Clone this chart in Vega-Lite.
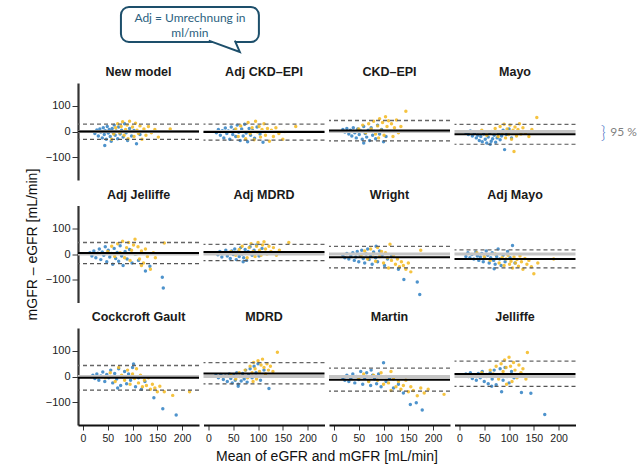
{
"$schema": "https://vega.github.io/schema/vega-lite/v6.json",
"padding": {"left": 25, "top": 6, "right": 1, "bottom": 2},
"bounds": "flush",
"data": {"values": [
{"p":"A","n":"New model","m":0,"lo":-31,"hi":29},{"p":"B","n":"Adj CKD–EPI","m":-2,"lo":-34,"hi":29},{"p":"C","n":"CKD–EPI","m":4,"lo":-37,"hi":43},{"p":"D","n":"Mayo","m":-11,"lo":-50,"hi":28},
{"p":"E","n":"Adj Jelliffe","m":4,"lo":-38,"hi":45},{"p":"F","n":"Adj MDRD","m":8,"lo":-26,"hi":38},{"p":"G","n":"Wright","m":-13,"lo":-54,"hi":30},{"p":"H","n":"Adj Mayo","m":-20,"lo":-54,"hi":16},
{"p":"I","n":"Cockcroft Gault","m":-5,"lo":-53,"hi":43},{"p":"J","n":"MDRD","m":12,"lo":-29,"hi":54},{"p":"K","n":"Martin","m":-13,"lo":-57,"hi":33},{"p":"L","n":"Jelliffe","m":10,"lo":-39,"hi":60},
{"p":"A","x":24,"y":-8,"c":"b"},{"p":"A","x":28,"y":6,"c":"b"},{"p":"A","x":31,"y":-18,"c":"b"},{"p":"A","x":34,"y":10,"c":"b"},{"p":"A","x":36,"y":-2,"c":"b"},{"p":"A","x":39,"y":-25,"c":"b"},{"p":"A","x":41,"y":15,"c":"b"},{"p":"A","x":43,"y":-12,"c":"b"},{"p":"A","x":45,"y":3,"c":"b"},{"p":"A","x":47,"y":-30,"c":"b"},{"p":"A","x":49,"y":20,"c":"b"},{"p":"A","x":51,"y":-6,"c":"b"},{"p":"A","x":53,"y":8,"c":"b"},{"p":"A","x":55,"y":-20,"c":"b"},{"p":"A","x":57,"y":-38,"c":"b"},{"p":"A","x":59,"y":12,"c":"b"},{"p":"A","x":61,"y":-4,"c":"b"},{"p":"A","x":63,"y":25,"c":"b"},{"p":"A","x":65,"y":-15,"c":"b"},{"p":"A","x":67,"y":2,"c":"b"},{"p":"A","x":70,"y":-28,"c":"b"},{"p":"A","x":72,"y":18,"c":"b"},{"p":"A","x":75,"y":-10,"c":"b"},{"p":"A","x":78,"y":5,"c":"b"},{"p":"A","x":81,"y":-22,"c":"b"},{"p":"A","x":84,"y":30,"c":"b"},{"p":"A","x":87,"y":-5,"c":"b"},{"p":"A","x":90,"y":-35,"c":"b"},{"p":"A","x":94,"y":12,"c":"b"},{"p":"A","x":98,"y":-18,"c":"b"},{"p":"A","x":103,"y":4,"c":"b"},{"p":"A","x":108,"y":-48,"c":"b"},{"p":"A","x":44,"y":-55,"c":"b"},{"p":"A","x":115,"y":-12,"c":"b"},
{"p":"A","x":62,"y":-10,"c":"y"},{"p":"A","x":66,"y":15,"c":"y"},{"p":"A","x":70,"y":30,"c":"y"},{"p":"A","x":74,"y":-5,"c":"y"},{"p":"A","x":77,"y":20,"c":"y"},{"p":"A","x":80,"y":38,"c":"y"},{"p":"A","x":83,"y":-15,"c":"y"},{"p":"A","x":86,"y":8,"c":"y"},{"p":"A","x":89,"y":25,"c":"y"},{"p":"A","x":91,"y":-28,"c":"y"},{"p":"A","x":94,"y":40,"c":"y"},{"p":"A","x":97,"y":0,"c":"y"},{"p":"A","x":100,"y":18,"c":"y"},{"p":"A","x":103,"y":-20,"c":"y"},{"p":"A","x":106,"y":32,"c":"y"},{"p":"A","x":109,"y":5,"c":"y"},{"p":"A","x":112,"y":-8,"c":"y"},{"p":"A","x":115,"y":22,"c":"y"},{"p":"A","x":119,"y":-30,"c":"y"},{"p":"A","x":123,"y":10,"c":"y"},{"p":"A","x":127,"y":-15,"c":"y"},{"p":"A","x":132,"y":20,"c":"y"},{"p":"A","x":138,"y":-5,"c":"y"},{"p":"A","x":145,"y":8,"c":"y"},{"p":"A","x":152,"y":-22,"c":"y"},{"p":"A","x":176,"y":10,"c":"y"},{"p":"A","x":58,"y":-30,"c":"y"},
{"p":"B","x":16,"y":-5,"c":"b"},{"p":"B","x":20,"y":8,"c":"b"},{"p":"B","x":24,"y":-15,"c":"b"},{"p":"B","x":28,"y":3,"c":"b"},{"p":"B","x":31,"y":-25,"c":"b"},{"p":"B","x":34,"y":14,"c":"b"},{"p":"B","x":37,"y":-8,"c":"b"},{"p":"B","x":40,"y":2,"c":"b"},{"p":"B","x":43,"y":-30,"c":"b"},{"p":"B","x":46,"y":18,"c":"b"},{"p":"B","x":49,"y":-12,"c":"b"},{"p":"B","x":52,"y":6,"c":"b"},{"p":"B","x":55,"y":-20,"c":"b"},{"p":"B","x":58,"y":25,"c":"b"},{"p":"B","x":61,"y":-3,"c":"b"},{"p":"B","x":64,"y":-35,"c":"b"},{"p":"B","x":67,"y":10,"c":"b"},{"p":"B","x":70,"y":-18,"c":"b"},{"p":"B","x":73,"y":28,"c":"b"},{"p":"B","x":76,"y":-6,"c":"b"},{"p":"B","x":79,"y":-40,"c":"b"},{"p":"B","x":82,"y":12,"c":"b"},{"p":"B","x":85,"y":-15,"c":"b"},{"p":"B","x":89,"y":4,"c":"b"},{"p":"B","x":93,"y":-26,"c":"b"},{"p":"B","x":98,"y":18,"c":"b"},{"p":"B","x":104,"y":-10,"c":"b"},{"p":"B","x":110,"y":-42,"c":"b"},
{"p":"B","x":55,"y":10,"c":"y"},{"p":"B","x":60,"y":-20,"c":"y"},{"p":"B","x":65,"y":22,"c":"y"},{"p":"B","x":70,"y":0,"c":"y"},{"p":"B","x":75,"y":-28,"c":"y"},{"p":"B","x":80,"y":35,"c":"y"},{"p":"B","x":84,"y":-8,"c":"y"},{"p":"B","x":88,"y":15,"c":"y"},{"p":"B","x":92,"y":-32,"c":"y"},{"p":"B","x":95,"y":40,"c":"y"},{"p":"B","x":99,"y":-2,"c":"y"},{"p":"B","x":102,"y":20,"c":"y"},{"p":"B","x":105,"y":-22,"c":"y"},{"p":"B","x":108,"y":8,"c":"y"},{"p":"B","x":112,"y":30,"c":"y"},{"p":"B","x":115,"y":-15,"c":"y"},{"p":"B","x":119,"y":12,"c":"y"},{"p":"B","x":123,"y":-38,"c":"y"},{"p":"B","x":127,"y":5,"c":"y"},{"p":"B","x":131,"y":-20,"c":"y"},{"p":"B","x":136,"y":15,"c":"y"},{"p":"B","x":142,"y":-8,"c":"y"},{"p":"B","x":150,"y":-30,"c":"y"},{"p":"B","x":154,"y":0,"c":"y"},{"p":"B","x":176,"y":20,"c":"y"},
{"p":"C","x":18,"y":8,"c":"b"},{"p":"C","x":22,"y":-2,"c":"b"},{"p":"C","x":26,"y":12,"c":"b"},{"p":"C","x":30,"y":-10,"c":"b"},{"p":"C","x":33,"y":5,"c":"b"},{"p":"C","x":36,"y":-18,"c":"b"},{"p":"C","x":39,"y":15,"c":"b"},{"p":"C","x":42,"y":-5,"c":"b"},{"p":"C","x":45,"y":-25,"c":"b"},{"p":"C","x":48,"y":10,"c":"b"},{"p":"C","x":51,"y":-12,"c":"b"},{"p":"C","x":54,"y":2,"c":"b"},{"p":"C","x":57,"y":-30,"c":"b"},{"p":"C","x":60,"y":20,"c":"b"},{"p":"C","x":63,"y":-8,"c":"b"},{"p":"C","x":66,"y":-22,"c":"b"},{"p":"C","x":69,"y":5,"c":"b"},{"p":"C","x":72,"y":-35,"c":"b"},{"p":"C","x":75,"y":15,"c":"b"},{"p":"C","x":78,"y":-15,"c":"b"},{"p":"C","x":81,"y":0,"c":"b"},{"p":"C","x":84,"y":-28,"c":"b"},{"p":"C","x":88,"y":25,"c":"b"},{"p":"C","x":92,"y":-10,"c":"b"},{"p":"C","x":96,"y":8,"c":"b"},{"p":"C","x":100,"y":-40,"c":"b"},{"p":"C","x":105,"y":-20,"c":"b"},{"p":"C","x":60,"y":-45,"c":"b"},
{"p":"C","x":50,"y":10,"c":"y"},{"p":"C","x":58,"y":25,"c":"y"},{"p":"C","x":64,"y":-5,"c":"y"},{"p":"C","x":70,"y":30,"c":"y"},{"p":"C","x":75,"y":10,"c":"y"},{"p":"C","x":80,"y":40,"c":"y"},{"p":"C","x":84,"y":-10,"c":"y"},{"p":"C","x":88,"y":22,"c":"y"},{"p":"C","x":92,"y":50,"c":"y"},{"p":"C","x":95,"y":5,"c":"y"},{"p":"C","x":98,"y":35,"c":"y"},{"p":"C","x":101,"y":-15,"c":"y"},{"p":"C","x":104,"y":58,"c":"y"},{"p":"C","x":107,"y":20,"c":"y"},{"p":"C","x":110,"y":42,"c":"y"},{"p":"C","x":113,"y":0,"c":"y"},{"p":"C","x":116,"y":30,"c":"y"},{"p":"C","x":119,"y":-20,"c":"y"},{"p":"C","x":122,"y":15,"c":"y"},{"p":"C","x":126,"y":45,"c":"y"},{"p":"C","x":130,"y":-5,"c":"y"},{"p":"C","x":135,"y":20,"c":"y"},{"p":"C","x":145,"y":79,"c":"y"},{"p":"C","x":90,"y":-25,"c":"y"},
{"p":"D","x":13,"y":-5,"c":"b"},{"p":"D","x":18,"y":-12,"c":"b"},{"p":"D","x":22,"y":2,"c":"b"},{"p":"D","x":26,"y":-18,"c":"b"},{"p":"D","x":30,"y":-8,"c":"b"},{"p":"D","x":34,"y":-25,"c":"b"},{"p":"D","x":37,"y":-15,"c":"b"},{"p":"D","x":40,"y":-35,"c":"b"},{"p":"D","x":43,"y":-20,"c":"b"},{"p":"D","x":46,"y":-40,"c":"b"},{"p":"D","x":49,"y":-10,"c":"b"},{"p":"D","x":52,"y":-30,"c":"b"},{"p":"D","x":55,"y":-45,"c":"b"},{"p":"D","x":58,"y":-22,"c":"b"},{"p":"D","x":61,"y":-5,"c":"b"},{"p":"D","x":64,"y":-38,"c":"b"},{"p":"D","x":67,"y":-28,"c":"b"},{"p":"D","x":70,"y":-15,"c":"b"},{"p":"D","x":73,"y":-42,"c":"b"},{"p":"D","x":76,"y":-25,"c":"b"},{"p":"D","x":79,"y":-8,"c":"b"},{"p":"D","x":82,"y":-32,"c":"b"},{"p":"D","x":85,"y":-18,"c":"b"},{"p":"D","x":88,"y":5,"c":"b"},{"p":"D","x":91,"y":-71,"c":"b"},{"p":"D","x":95,"y":-12,"c":"b"},{"p":"D","x":100,"y":10,"c":"b"},{"p":"D","x":105,"y":-25,"c":"b"},{"p":"D","x":62,"y":-50,"c":"b"},
{"p":"D","x":45,"y":5,"c":"y"},{"p":"D","x":55,"y":-15,"c":"y"},{"p":"D","x":65,"y":0,"c":"y"},{"p":"D","x":72,"y":12,"c":"y"},{"p":"D","x":78,"y":-20,"c":"y"},{"p":"D","x":82,"y":20,"c":"y"},{"p":"D","x":86,"y":-5,"c":"y"},{"p":"D","x":90,"y":28,"c":"y"},{"p":"D","x":93,"y":-25,"c":"y"},{"p":"D","x":96,"y":10,"c":"y"},{"p":"D","x":99,"y":-12,"c":"y"},{"p":"D","x":102,"y":25,"c":"y"},{"p":"D","x":105,"y":-30,"c":"y"},{"p":"D","x":108,"y":5,"c":"y"},{"p":"D","x":110,"y":-78,"c":"y"},{"p":"D","x":112,"y":18,"c":"y"},{"p":"D","x":115,"y":-18,"c":"y"},{"p":"D","x":118,"y":8,"c":"y"},{"p":"D","x":121,"y":30,"c":"y"},{"p":"D","x":124,"y":-10,"c":"y"},{"p":"D","x":128,"y":15,"c":"y"},{"p":"D","x":133,"y":-5,"c":"y"},{"p":"D","x":140,"y":-20,"c":"y"},{"p":"D","x":146,"y":8,"c":"y"},{"p":"D","x":156,"y":55,"c":"y"},
{"p":"E","x":14,"y":5,"c":"b"},{"p":"E","x":18,"y":-8,"c":"b"},{"p":"E","x":22,"y":12,"c":"b"},{"p":"E","x":26,"y":-15,"c":"b"},{"p":"E","x":30,"y":3,"c":"b"},{"p":"E","x":33,"y":20,"c":"b"},{"p":"E","x":36,"y":-22,"c":"b"},{"p":"E","x":39,"y":8,"c":"b"},{"p":"E","x":42,"y":-5,"c":"b"},{"p":"E","x":45,"y":28,"c":"b"},{"p":"E","x":48,"y":-30,"c":"b"},{"p":"E","x":51,"y":15,"c":"b"},{"p":"E","x":54,"y":-12,"c":"b"},{"p":"E","x":57,"y":2,"c":"b"},{"p":"E","x":60,"y":-40,"c":"b"},{"p":"E","x":63,"y":22,"c":"b"},{"p":"E","x":66,"y":-18,"c":"b"},{"p":"E","x":69,"y":6,"c":"b"},{"p":"E","x":72,"y":-28,"c":"b"},{"p":"E","x":75,"y":32,"c":"b"},{"p":"E","x":78,"y":-8,"c":"b"},{"p":"E","x":81,"y":-45,"c":"b"},{"p":"E","x":85,"y":10,"c":"b"},{"p":"E","x":89,"y":-20,"c":"b"},{"p":"E","x":94,"y":18,"c":"b"},{"p":"E","x":99,"y":-35,"c":"b"},{"p":"E","x":105,"y":0,"c":"b"},{"p":"E","x":112,"y":-25,"c":"b"},{"p":"E","x":126,"y":-67,"c":"b"},{"p":"E","x":160,"y":-91,"c":"b"},{"p":"E","x":162,"y":-133,"c":"b"},{"p":"E","x":135,"y":-48,"c":"b"},
{"p":"E","x":50,"y":10,"c":"y"},{"p":"E","x":58,"y":30,"c":"y"},{"p":"E","x":64,"y":-10,"c":"y"},{"p":"E","x":70,"y":40,"c":"y"},{"p":"E","x":75,"y":5,"c":"y"},{"p":"E","x":80,"y":50,"c":"y"},{"p":"E","x":84,"y":-15,"c":"y"},{"p":"E","x":88,"y":25,"c":"y"},{"p":"E","x":92,"y":45,"c":"y"},{"p":"E","x":95,"y":-25,"c":"y"},{"p":"E","x":98,"y":15,"c":"y"},{"p":"E","x":102,"y":35,"c":"y"},{"p":"E","x":105,"y":58,"c":"y"},{"p":"E","x":108,"y":0,"c":"y"},{"p":"E","x":111,"y":28,"c":"y"},{"p":"E","x":114,"y":-20,"c":"y"},{"p":"E","x":118,"y":12,"c":"y"},{"p":"E","x":122,"y":-35,"c":"y"},{"p":"E","x":126,"y":20,"c":"y"},{"p":"E","x":130,"y":-10,"c":"y"},{"p":"E","x":136,"y":-60,"c":"y"},{"p":"E","x":142,"y":5,"c":"y"},{"p":"E","x":146,"y":-15,"c":"y"},{"p":"E","x":164,"y":43,"c":"y"},{"p":"E","x":118,"y":-45,"c":"y"},
{"p":"F","x":15,"y":5,"c":"b"},{"p":"F","x":19,"y":-3,"c":"b"},{"p":"F","x":23,"y":10,"c":"b"},{"p":"F","x":27,"y":-12,"c":"b"},{"p":"F","x":31,"y":2,"c":"b"},{"p":"F","x":35,"y":15,"c":"b"},{"p":"F","x":38,"y":-8,"c":"b"},{"p":"F","x":41,"y":6,"c":"b"},{"p":"F","x":44,"y":-18,"c":"b"},{"p":"F","x":47,"y":12,"c":"b"},{"p":"F","x":50,"y":-2,"c":"b"},{"p":"F","x":53,"y":20,"c":"b"},{"p":"F","x":56,"y":-22,"c":"b"},{"p":"F","x":59,"y":8,"c":"b"},{"p":"F","x":62,"y":-10,"c":"b"},{"p":"F","x":65,"y":25,"c":"b"},{"p":"F","x":68,"y":0,"c":"b"},{"p":"F","x":71,"y":-15,"c":"b"},{"p":"F","x":74,"y":18,"c":"b"},{"p":"F","x":77,"y":-25,"c":"b"},{"p":"F","x":80,"y":10,"c":"b"},{"p":"F","x":84,"y":28,"c":"b"},{"p":"F","x":88,"y":-5,"c":"b"},{"p":"F","x":92,"y":15,"c":"b"},{"p":"F","x":97,"y":35,"c":"b"},{"p":"F","x":102,"y":-8,"c":"b"},{"p":"F","x":108,"y":22,"c":"b"},{"p":"F","x":115,"y":5,"c":"b"},{"p":"F","x":70,"y":-30,"c":"b"},
{"p":"F","x":45,"y":10,"c":"y"},{"p":"F","x":55,"y":-5,"c":"y"},{"p":"F","x":62,"y":18,"c":"y"},{"p":"F","x":68,"y":30,"c":"y"},{"p":"F","x":73,"y":5,"c":"y"},{"p":"F","x":78,"y":-15,"c":"y"},{"p":"F","x":82,"y":25,"c":"y"},{"p":"F","x":86,"y":40,"c":"y"},{"p":"F","x":90,"y":10,"c":"y"},{"p":"F","x":94,"y":-10,"c":"y"},{"p":"F","x":97,"y":30,"c":"y"},{"p":"F","x":100,"y":45,"c":"y"},{"p":"F","x":103,"y":15,"c":"y"},{"p":"F","x":106,"y":-5,"c":"y"},{"p":"F","x":109,"y":35,"c":"y"},{"p":"F","x":112,"y":48,"c":"y"},{"p":"F","x":115,"y":20,"c":"y"},{"p":"F","x":118,"y":0,"c":"y"},{"p":"F","x":122,"y":30,"c":"y"},{"p":"F","x":126,"y":10,"c":"y"},{"p":"F","x":131,"y":25,"c":"y"},{"p":"F","x":137,"y":-5,"c":"y"},{"p":"F","x":143,"y":15,"c":"y"},{"p":"F","x":162,"y":45,"c":"y"},
{"p":"G","x":18,"y":-5,"c":"b"},{"p":"G","x":22,"y":-15,"c":"b"},{"p":"G","x":26,"y":2,"c":"b"},{"p":"G","x":30,"y":-20,"c":"b"},{"p":"G","x":34,"y":-8,"c":"b"},{"p":"G","x":38,"y":5,"c":"b"},{"p":"G","x":41,"y":-25,"c":"b"},{"p":"G","x":44,"y":-12,"c":"b"},{"p":"G","x":47,"y":10,"c":"b"},{"p":"G","x":50,"y":-30,"c":"b"},{"p":"G","x":53,"y":-5,"c":"b"},{"p":"G","x":56,"y":15,"c":"b"},{"p":"G","x":59,"y":-18,"c":"b"},{"p":"G","x":62,"y":-35,"c":"b"},{"p":"G","x":65,"y":0,"c":"b"},{"p":"G","x":68,"y":20,"c":"b"},{"p":"G","x":71,"y":-22,"c":"b"},{"p":"G","x":74,"y":-10,"c":"b"},{"p":"G","x":77,"y":-40,"c":"b"},{"p":"G","x":80,"y":8,"c":"b"},{"p":"G","x":84,"y":-15,"c":"b"},{"p":"G","x":88,"y":-30,"c":"b"},{"p":"G","x":92,"y":12,"c":"b"},{"p":"G","x":97,"y":-5,"c":"b"},{"p":"G","x":102,"y":-45,"c":"b"},{"p":"G","x":108,"y":-20,"c":"b"},{"p":"G","x":116,"y":-10,"c":"b"},{"p":"G","x":130,"y":-60,"c":"b"},{"p":"G","x":141,"y":-100,"c":"b"},{"p":"G","x":168,"y":-110,"c":"b"},{"p":"G","x":173,"y":-159,"c":"b"},{"p":"G","x":85,"y":30,"c":"b"},
{"p":"G","x":55,"y":-5,"c":"y"},{"p":"G","x":62,"y":12,"c":"y"},{"p":"G","x":68,"y":-20,"c":"y"},{"p":"G","x":74,"y":20,"c":"y"},{"p":"G","x":79,"y":0,"c":"y"},{"p":"G","x":84,"y":-28,"c":"y"},{"p":"G","x":88,"y":25,"c":"y"},{"p":"G","x":92,"y":-10,"c":"y"},{"p":"G","x":96,"y":10,"c":"y"},{"p":"G","x":100,"y":-35,"c":"y"},{"p":"G","x":104,"y":5,"c":"y"},{"p":"G","x":108,"y":-15,"c":"y"},{"p":"G","x":113,"y":38,"c":"y"},{"p":"G","x":116,"y":-25,"c":"y"},{"p":"G","x":120,"y":-5,"c":"y"},{"p":"G","x":124,"y":-40,"c":"y"},{"p":"G","x":128,"y":-20,"c":"y"},{"p":"G","x":132,"y":-50,"c":"y"},{"p":"G","x":136,"y":-30,"c":"y"},{"p":"G","x":140,"y":-45,"c":"y"},{"p":"G","x":145,"y":-60,"c":"y"},{"p":"G","x":150,"y":-35,"c":"y"},{"p":"G","x":155,"y":-70,"c":"y"},{"p":"G","x":175,"y":15,"c":"y"},{"p":"G","x":110,"y":-55,"c":"y"},
{"p":"H","x":13,"y":-10,"c":"b"},{"p":"H","x":17,"y":5,"c":"b"},{"p":"H","x":21,"y":-15,"c":"b"},{"p":"H","x":25,"y":-2,"c":"b"},{"p":"H","x":29,"y":-20,"c":"b"},{"p":"H","x":33,"y":8,"c":"b"},{"p":"H","x":36,"y":-8,"c":"b"},{"p":"H","x":39,"y":-25,"c":"b"},{"p":"H","x":42,"y":-12,"c":"b"},{"p":"H","x":45,"y":2,"c":"b"},{"p":"H","x":48,"y":-30,"c":"b"},{"p":"H","x":51,"y":-18,"c":"b"},{"p":"H","x":54,"y":12,"c":"b"},{"p":"H","x":57,"y":-5,"c":"b"},{"p":"H","x":60,"y":-35,"c":"b"},{"p":"H","x":63,"y":-15,"c":"b"},{"p":"H","x":66,"y":5,"c":"b"},{"p":"H","x":69,"y":-25,"c":"b"},{"p":"H","x":72,"y":-40,"c":"b"},{"p":"H","x":75,"y":-10,"c":"b"},{"p":"H","x":78,"y":20,"c":"b"},{"p":"H","x":81,"y":-20,"c":"b"},{"p":"H","x":84,"y":-45,"c":"b"},{"p":"H","x":88,"y":-5,"c":"b"},{"p":"H","x":92,"y":-30,"c":"b"},{"p":"H","x":97,"y":10,"c":"b"},{"p":"H","x":102,"y":-15,"c":"b"},{"p":"H","x":107,"y":33,"c":"b"},{"p":"H","x":112,"y":-35,"c":"b"},{"p":"H","x":70,"y":-58,"c":"b"},
{"p":"H","x":35,"y":5,"c":"y"},{"p":"H","x":50,"y":-10,"c":"y"},{"p":"H","x":62,"y":-25,"c":"y"},{"p":"H","x":72,"y":0,"c":"y"},{"p":"H","x":80,"y":-35,"c":"y"},{"p":"H","x":86,"y":-15,"c":"y"},{"p":"H","x":90,"y":-45,"c":"y"},{"p":"H","x":94,"y":-20,"c":"y"},{"p":"H","x":98,"y":-5,"c":"y"},{"p":"H","x":101,"y":-40,"c":"y"},{"p":"H","x":104,"y":-28,"c":"y"},{"p":"H","x":107,"y":-55,"c":"y"},{"p":"H","x":110,"y":-12,"c":"y"},{"p":"H","x":113,"y":-35,"c":"y"},{"p":"H","x":116,"y":-22,"c":"y"},{"p":"H","x":119,"y":-48,"c":"y"},{"p":"H","x":122,"y":-8,"c":"y"},{"p":"H","x":125,"y":-30,"c":"y"},{"p":"H","x":128,"y":-60,"c":"y"},{"p":"H","x":132,"y":-18,"c":"y"},{"p":"H","x":136,"y":-40,"c":"y"},{"p":"H","x":140,"y":-25,"c":"y"},{"p":"H","x":145,"y":-50,"c":"y"},{"p":"H","x":150,"y":-77,"c":"y"},{"p":"H","x":158,"y":-35,"c":"y"},{"p":"H","x":190,"y":-20,"c":"y"},
{"p":"I","x":20,"y":5,"c":"b"},{"p":"I","x":24,"y":-8,"c":"b"},{"p":"I","x":28,"y":10,"c":"b"},{"p":"I","x":32,"y":-15,"c":"b"},{"p":"I","x":36,"y":2,"c":"b"},{"p":"I","x":40,"y":18,"c":"b"},{"p":"I","x":44,"y":-20,"c":"b"},{"p":"I","x":48,"y":8,"c":"b"},{"p":"I","x":52,"y":-5,"c":"b"},{"p":"I","x":56,"y":25,"c":"b"},{"p":"I","x":60,"y":-25,"c":"b"},{"p":"I","x":64,"y":12,"c":"b"},{"p":"I","x":68,"y":-10,"c":"b"},{"p":"I","x":72,"y":30,"c":"b"},{"p":"I","x":76,"y":-35,"c":"b"},{"p":"I","x":80,"y":0,"c":"b"},{"p":"I","x":84,"y":20,"c":"b"},{"p":"I","x":88,"y":-28,"c":"b"},{"p":"I","x":92,"y":10,"c":"b"},{"p":"I","x":96,"y":-15,"c":"b"},{"p":"I","x":100,"y":35,"c":"b"},{"p":"I","x":102,"y":49,"c":"b"},{"p":"I","x":106,"y":-40,"c":"b"},{"p":"I","x":112,"y":-5,"c":"b"},{"p":"I","x":118,"y":-50,"c":"b"},{"p":"I","x":125,"y":-20,"c":"b"},{"p":"I","x":143,"y":-83,"c":"b"},{"p":"I","x":161,"y":-126,"c":"b"},{"p":"I","x":188,"y":-151,"c":"b"},{"p":"I","x":70,"y":-45,"c":"b"},
{"p":"I","x":45,"y":-5,"c":"y"},{"p":"I","x":55,"y":15,"c":"y"},{"p":"I","x":65,"y":-20,"c":"y"},{"p":"I","x":72,"y":35,"c":"y"},{"p":"I","x":78,"y":5,"c":"y"},{"p":"I","x":84,"y":-15,"c":"y"},{"p":"I","x":90,"y":25,"c":"y"},{"p":"I","x":95,"y":-30,"c":"y"},{"p":"I","x":100,"y":10,"c":"y"},{"p":"I","x":104,"y":-8,"c":"y"},{"p":"I","x":108,"y":30,"c":"y"},{"p":"I","x":112,"y":-25,"c":"y"},{"p":"I","x":116,"y":5,"c":"y"},{"p":"I","x":120,"y":-40,"c":"y"},{"p":"I","x":124,"y":-15,"c":"y"},{"p":"I","x":128,"y":-35,"c":"y"},{"p":"I","x":132,"y":-5,"c":"y"},{"p":"I","x":136,"y":-50,"c":"y"},{"p":"I","x":140,"y":-30,"c":"y"},{"p":"I","x":145,"y":-45,"c":"y"},{"p":"I","x":150,"y":-60,"c":"y"},{"p":"I","x":155,"y":-38,"c":"y"},{"p":"I","x":164,"y":-60,"c":"y"},{"p":"I","x":181,"y":-74,"c":"y"},{"p":"I","x":215,"y":-60,"c":"y"},
{"p":"J","x":15,"y":5,"c":"b"},{"p":"J","x":20,"y":-5,"c":"b"},{"p":"J","x":25,"y":8,"c":"b"},{"p":"J","x":30,"y":-12,"c":"b"},{"p":"J","x":34,"y":2,"c":"b"},{"p":"J","x":38,"y":-20,"c":"b"},{"p":"J","x":42,"y":10,"c":"b"},{"p":"J","x":45,"y":-8,"c":"b"},{"p":"J","x":48,"y":-25,"c":"b"},{"p":"J","x":51,"y":5,"c":"b"},{"p":"J","x":54,"y":-15,"c":"b"},{"p":"J","x":57,"y":15,"c":"b"},{"p":"J","x":60,"y":-30,"c":"b"},{"p":"J","x":63,"y":0,"c":"b"},{"p":"J","x":66,"y":-18,"c":"b"},{"p":"J","x":69,"y":12,"c":"b"},{"p":"J","x":72,"y":-10,"c":"b"},{"p":"J","x":75,"y":25,"c":"b"},{"p":"J","x":78,"y":-22,"c":"b"},{"p":"J","x":81,"y":5,"c":"b"},{"p":"J","x":84,"y":30,"c":"b"},{"p":"J","x":88,"y":-5,"c":"b"},{"p":"J","x":92,"y":40,"c":"b"},{"p":"J","x":96,"y":15,"c":"b"},{"p":"J","x":100,"y":50,"c":"b"},{"p":"J","x":105,"y":-15,"c":"b"},{"p":"J","x":112,"y":25,"c":"b"},{"p":"J","x":122,"y":-47,"c":"b"},{"p":"J","x":60,"y":-38,"c":"b"},
{"p":"J","x":45,"y":8,"c":"y"},{"p":"J","x":55,"y":-10,"c":"y"},{"p":"J","x":62,"y":15,"c":"y"},{"p":"J","x":68,"y":0,"c":"y"},{"p":"J","x":74,"y":25,"c":"y"},{"p":"J","x":79,"y":-5,"c":"y"},{"p":"J","x":84,"y":40,"c":"y"},{"p":"J","x":88,"y":15,"c":"y"},{"p":"J","x":91,"y":55,"c":"y"},{"p":"J","x":94,"y":30,"c":"y"},{"p":"J","x":97,"y":-10,"c":"y"},{"p":"J","x":100,"y":62,"c":"y"},{"p":"J","x":103,"y":20,"c":"y"},{"p":"J","x":106,"y":45,"c":"y"},{"p":"J","x":109,"y":68,"c":"y"},{"p":"J","x":112,"y":35,"c":"y"},{"p":"J","x":115,"y":10,"c":"y"},{"p":"J","x":118,"y":50,"c":"y"},{"p":"J","x":121,"y":25,"c":"y"},{"p":"J","x":125,"y":40,"c":"y"},{"p":"J","x":130,"y":20,"c":"y"},{"p":"J","x":139,"y":95,"c":"y"},{"p":"J","x":90,"y":-20,"c":"y"},
{"p":"K","x":18,"y":-5,"c":"b"},{"p":"K","x":22,"y":-15,"c":"b"},{"p":"K","x":26,"y":5,"c":"b"},{"p":"K","x":30,"y":-20,"c":"b"},{"p":"K","x":34,"y":-8,"c":"b"},{"p":"K","x":38,"y":10,"c":"b"},{"p":"K","x":42,"y":-25,"c":"b"},{"p":"K","x":46,"y":0,"c":"b"},{"p":"K","x":50,"y":-12,"c":"b"},{"p":"K","x":54,"y":20,"c":"b"},{"p":"K","x":58,"y":-30,"c":"b"},{"p":"K","x":62,"y":-5,"c":"b"},{"p":"K","x":66,"y":15,"c":"b"},{"p":"K","x":70,"y":-18,"c":"b"},{"p":"K","x":74,"y":-35,"c":"b"},{"p":"K","x":78,"y":5,"c":"b"},{"p":"K","x":82,"y":-10,"c":"b"},{"p":"K","x":86,"y":-28,"c":"b"},{"p":"K","x":90,"y":10,"c":"b"},{"p":"K","x":95,"y":-40,"c":"b"},{"p":"K","x":100,"y":54,"c":"b"},{"p":"K","x":105,"y":-20,"c":"b"},{"p":"K","x":112,"y":-8,"c":"b"},{"p":"K","x":120,"y":-45,"c":"b"},{"p":"K","x":130,"y":-30,"c":"b"},{"p":"K","x":154,"y":-110,"c":"b"},{"p":"K","x":166,"y":-103,"c":"b"},{"p":"K","x":178,"y":-131,"c":"b"},{"p":"K","x":140,"y":-65,"c":"b"},{"p":"K","x":75,"y":25,"c":"b"},
{"p":"K","x":50,"y":-5,"c":"y"},{"p":"K","x":60,"y":10,"c":"y"},{"p":"K","x":70,"y":-20,"c":"y"},{"p":"K","x":80,"y":5,"c":"y"},{"p":"K","x":88,"y":-15,"c":"y"},{"p":"K","x":95,"y":15,"c":"y"},{"p":"K","x":100,"y":-30,"c":"y"},{"p":"K","x":105,"y":0,"c":"y"},{"p":"K","x":110,"y":-25,"c":"y"},{"p":"K","x":115,"y":20,"c":"y"},{"p":"K","x":120,"y":-10,"c":"y"},{"p":"K","x":125,"y":-40,"c":"y"},{"p":"K","x":130,"y":-20,"c":"y"},{"p":"K","x":135,"y":-50,"c":"y"},{"p":"K","x":140,"y":-35,"c":"y"},{"p":"K","x":145,"y":-15,"c":"y"},{"p":"K","x":150,"y":-60,"c":"y"},{"p":"K","x":155,"y":-40,"c":"y"},{"p":"K","x":160,"y":-55,"c":"y"},{"p":"K","x":168,"y":-75,"c":"y"},{"p":"K","x":175,"y":-45,"c":"y"},{"p":"K","x":182,"y":-65,"c":"y"},{"p":"K","x":190,"y":-50,"c":"y"},{"p":"K","x":222,"y":-70,"c":"y"},{"p":"K","x":115,"y":-55,"c":"y"},
{"p":"L","x":13,"y":10,"c":"b"},{"p":"L","x":18,"y":0,"c":"b"},{"p":"L","x":22,"y":15,"c":"b"},{"p":"L","x":26,"y":-8,"c":"b"},{"p":"L","x":30,"y":5,"c":"b"},{"p":"L","x":34,"y":-15,"c":"b"},{"p":"L","x":38,"y":12,"c":"b"},{"p":"L","x":42,"y":-5,"c":"b"},{"p":"L","x":46,"y":20,"c":"b"},{"p":"L","x":50,"y":-20,"c":"b"},{"p":"L","x":54,"y":8,"c":"b"},{"p":"L","x":58,"y":-28,"c":"b"},{"p":"L","x":62,"y":15,"c":"b"},{"p":"L","x":66,"y":-10,"c":"b"},{"p":"L","x":70,"y":25,"c":"b"},{"p":"L","x":74,"y":-32,"c":"b"},{"p":"L","x":78,"y":5,"c":"b"},{"p":"L","x":82,"y":30,"c":"b"},{"p":"L","x":85,"y":-60,"c":"b"},{"p":"L","x":88,"y":-15,"c":"b"},{"p":"L","x":92,"y":35,"c":"b"},{"p":"L","x":96,"y":0,"c":"b"},{"p":"L","x":100,"y":-25,"c":"b"},{"p":"L","x":105,"y":20,"c":"b"},{"p":"L","x":110,"y":-5,"c":"b"},{"p":"L","x":125,"y":-63,"c":"b"},{"p":"L","x":144,"y":-66,"c":"b"},{"p":"L","x":172,"y":-149,"c":"b"},{"p":"L","x":65,"y":-38,"c":"b"},
{"p":"L","x":45,"y":15,"c":"y"},{"p":"L","x":55,"y":0,"c":"y"},{"p":"L","x":62,"y":25,"c":"y"},{"p":"L","x":68,"y":10,"c":"y"},{"p":"L","x":74,"y":40,"c":"y"},{"p":"L","x":79,"y":-10,"c":"y"},{"p":"L","x":84,"y":50,"c":"y"},{"p":"L","x":88,"y":20,"c":"y"},{"p":"L","x":91,"y":65,"c":"y"},{"p":"L","x":94,"y":35,"c":"y"},{"p":"L","x":97,"y":5,"c":"y"},{"p":"L","x":100,"y":75,"c":"y"},{"p":"L","x":103,"y":40,"c":"y"},{"p":"L","x":106,"y":-20,"c":"y"},{"p":"L","x":109,"y":55,"c":"y"},{"p":"L","x":112,"y":25,"c":"y"},{"p":"L","x":116,"y":-5,"c":"y"},{"p":"L","x":120,"y":45,"c":"y"},{"p":"L","x":124,"y":15,"c":"y"},{"p":"L","x":128,"y":30,"c":"y"},{"p":"L","x":134,"y":-10,"c":"y"},{"p":"L","x":137,"y":94,"c":"y"},{"p":"L","x":95,"y":-30,"c":"y"}
]},
"facet": {"field": "p", "type": "nominal", "header": {"title": null, "labels": false, "labelExpr": "''", "labelFontSize": 0, "labelPadding": 0}},
"columns": 4,
"spacing": {"row": 25.5, "column": 4.5},
"spec": {
  "width": 121,
  "height": 97,
  "layer": [
    {"transform": [{"filter": "isValid(datum.x)"}],
     "mark": {"type": "circle", "size": 12, "opacity": 0.85},
     "encoding": {
       "x": {"field": "x", "type": "quantitative", "scale": {"domain": [-10, 234], "nice": false, "zero": false}, "axis": {"values": [0, 50, 100, 150, 200], "title": null, "labelOverlap": false, "labelFlush": false}},
       "y": {"field": "y", "type": "quantitative", "scale": {"domain": [-190, 190], "nice": false}, "axis": {"values": [-100, 0, 100], "title": null, "labelOverlap": false}},
       "color": {"field": "c", "type": "nominal", "scale": {"domain": ["b", "y"], "range": ["#2f80c3", "#f3b91e"]}, "legend": null}
     }},
    {"transform": [{"filter": "isValid(datum.m)"}],
     "mark": {"type": "rule", "color": "#c4c4c4", "strokeWidth": 3},
     "encoding": {"y": {"datum": 0, "axis": {"values": [-100, 0, 100], "title": null, "labelOverlap": false}}}},
    {"transform": [{"filter": "isValid(datum.m)"}],
     "mark": {"type": "rule", "color": "#666666", "strokeWidth": 1.3, "strokeDash": [4, 3]},
     "encoding": {"y": {"field": "hi", "type": "quantitative", "axis": {"values": [-100, 0, 100], "title": null, "labelOverlap": false}}}},
    {"transform": [{"filter": "isValid(datum.m)"}],
     "mark": {"type": "rule", "color": "#555555", "strokeWidth": 1.2, "strokeDash": [4, 3]},
     "encoding": {"y": {"field": "lo", "type": "quantitative", "axis": {"values": [-100, 0, 100], "title": null, "labelOverlap": false}}}},
    {"transform": [{"filter": "isValid(datum.m)"}],
     "mark": {"type": "rule", "color": "#000000", "strokeWidth": 2},
     "encoding": {"y": {"field": "m", "type": "quantitative", "axis": {"values": [-100, 0, 100], "title": null, "labelOverlap": false}}}},
    {"transform": [{"filter": "isValid(datum.m)"}],
     "mark": {"type": "text", "font": "Liberation Sans", "fontSize": 12.5, "fontWeight": "bold", "color": "#1a1a1a", "baseline": "middle", "align": "center"},
     "encoding": {"x": {"datum": 112, "axis": {"values": [0, 50, 100, 150, 200], "title": null, "labelOverlap": false, "labelFlush": false}}, "y": {"datum": 233, "axis": {"values": [-100, 0, 100], "title": null, "labelOverlap": false}}, "text": {"field": "n"}}},
    {"transform": [{"filter": "datum.p == 'E' && isValid(datum.m)"}],
     "mark": {"type": "text", "font": "Liberation Sans", "fontSize": 14, "color": "#111111", "baseline": "middle", "align": "center", "angle": 270},
     "encoding": {"x": {"datum": -101, "axis": {"values": [0, 50, 100, 150, 200], "title": null, "labelOverlap": false, "labelFlush": false}}, "y": {"datum": 37, "axis": {"values": [-100, 0, 100], "title": null, "labelOverlap": false}}, "text": {"value": "mGFR – eGFR [mL/min]"}}},
    {"transform": [{"filter": "datum.p == 'J' && isValid(datum.m)"}],
     "mark": {"type": "text", "font": "Liberation Sans", "fontSize": 14, "color": "#111111", "baseline": "middle", "align": "center"},
     "encoding": {"x": {"datum": 239, "axis": {"values": [0, 50, 100, 150, 200], "title": null, "labelOverlap": false, "labelFlush": false}}, "y": {"datum": -315, "axis": {"values": [-100, 0, 100], "title": null, "labelOverlap": false}}, "text": {"value": "Mean of eGFR and mGFR [mL/min]"}}},
    {"transform": [{"filter": "datum.p == 'A' && isValid(datum.m)"}],
     "mark": {"type": "rect", "fill": "white", "stroke": "#1d4f6b", "strokeWidth": 2, "cornerRadius": 8},
     "encoding": {"x": {"datum": 76.6, "axis": {"values": [0, 50, 100, 150, 200], "title": null, "labelOverlap": false, "labelFlush": false}}, "x2": {"datum": 354.8}, "y": {"datum": 487.7, "axis": {"values": [-100, 0, 100], "title": null, "labelOverlap": false}}, "y2": {"datum": 350.6}}},
    {"transform": [{"filter": "datum.p == 'A' && isValid(datum.m)"}],
     "mark": {"type": "point", "shape": "M -0.94 -0.4 L 1 0.31 L 0.69 -0.4", "filled": true, "fill": "white", "stroke": "#1d4f6b", "strokeWidth": 2, "size": 1024, "opacity": 1, "strokeJoin": "miter"},
     "encoding": {"x": {"datum": 284, "axis": {"values": [0, 50, 100, 150, 200], "title": null, "labelOverlap": false, "labelFlush": false}}, "y": {"datum": 331, "axis": {"values": [-100, 0, 100], "title": null, "labelOverlap": false}}}},
    {"transform": [{"filter": "datum.p == 'A' && isValid(datum.m)"}],
     "mark": {"type": "text", "font": "Lato", "fontSize": 12, "color": "#2b5f80", "baseline": "middle", "align": "center"},
     "encoding": {"x": {"datum": 215.7, "axis": {"values": [0, 50, 100, 150, 200], "title": null, "labelOverlap": false, "labelFlush": false}}, "y": {"datum": 446.5, "axis": {"values": [-100, 0, 100], "title": null, "labelOverlap": false}}, "text": {"value": "Adj = Umrechnung in"}}},
    {"transform": [{"filter": "datum.p == 'A' && isValid(datum.m)"}],
     "mark": {"type": "text", "font": "Lato", "fontSize": 12, "color": "#2b5f80", "baseline": "middle", "align": "center"},
     "encoding": {"x": {"datum": 215.7, "axis": {"values": [0, 50, 100, 150, 200], "title": null, "labelOverlap": false, "labelFlush": false}}, "y": {"datum": 384, "axis": {"values": [-100, 0, 100], "title": null, "labelOverlap": false}}, "text": {"value": "ml/min"}}},
    {"transform": [{"filter": "datum.p == 'D' && isValid(datum.m)"}],
     "mark": {"type": "text", "font": "Lato", "fontSize": 17, "fontWeight": 300, "color": "#3f6fc4", "baseline": "middle", "align": "center"},
     "encoding": {"x": {"datum": 290, "axis": {"values": [0, 50, 100, 150, 200], "title": null, "labelOverlap": false, "labelFlush": false}}, "y": {"datum": -5, "axis": {"values": [-100, 0, 100], "title": null, "labelOverlap": false}}, "text": {"value": "}"}}},
    {"transform": [{"filter": "datum.p == 'D' && isValid(datum.m)"}],
     "mark": {"type": "text", "font": "Lato", "fontSize": 12, "color": "#7f7f7f", "baseline": "middle", "align": "left"},
     "encoding": {"x": {"datum": 304, "axis": {"values": [0, 50, 100, 150, 200], "title": null, "labelOverlap": false, "labelFlush": false}}, "y": {"datum": -3, "axis": {"values": [-100, 0, 100], "title": null, "labelOverlap": false}}, "text": {"value": "95 %"}}}
  ]
},
"config": {
  "view": {"stroke": null},
  "font": "Liberation Sans",
  "headerFacet": {"labels": false, "title": null, "labelFontSize": 0, "labelPadding": 0},
  "axis": {"grid": false, "tickColor": "#333333", "labelFont": "Liberation Sans", "labelFontSize": 11, "labelColor": "#222222"},
  "axisY": {"domainColor": "#333333", "domainWidth": 2.2, "tickSize": 6, "labelPadding": 2},
  "axisX": {"domainColor": "#111111", "domainWidth": 2.2, "tickSize": 5, "labelPadding": 3, "labelOverlap": false, "labelFontSize": 10.5}
}
}
